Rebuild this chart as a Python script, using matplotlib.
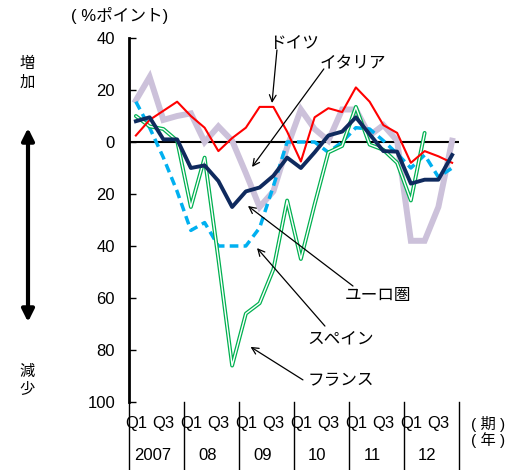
import matplotlib
matplotlib.use('Agg')
import matplotlib.pyplot as plt
import numpy as np

plt.rcParams['font.family'] = ['Liberation Sans', 'Noto Sans CJK JP']

# 2007Q1 - 2012Q4, %ポイント (マイナスは減少)
germany = [2.5, 8.5, 12, 15.5, 10, 5.5, -3.5, 1.5, 5.5, 13.5, 13.5, 4,
           -7.5, 9.5, 13, 11.5, 21, 15.5, 6.5, 3.5, -8, -3.5, -5.5, -8]
italy = [16, 25, 8.5, 10, 11, 0, 6, 0.5, -12, -25, -19, -2,
         12.5, 5, 0.5, 12.5, 12.5, 2.5, 6.5, 0.5, -38, -38, -25, 0.5]
spain = [15.5, 5.5, -6, -19, -34, -31, -40, -40, -40, -33, -17, 0,
         0, 0, -4, 0, 5.5, 5, 0.5, -4.5, -10, -5, -13.5, -10]
france = [10, 6, 5, 0.5, -25, -6, -45, -86, -66, -62, -49, -22.5,
          -45, -24, -4, -1.5, 13.5, -1, -3, -8, -22.5, 3.5]
euro = [8, 9.5, 1, 1, -10, -9, -15, -25, -19, -17.5, -13, -6,
        -10, -4, 2.5, 4, 9.5, 3, -3.5, -3.7, -16, -14.5, -14.5, -5]

years = ['2007', '08', '09', '10', '11', '12']
quarter_labels = ['Q1', 'Q3']

fig = plt.figure(figsize=(5.08, 4.70), dpi=100)
ax = fig.add_axes([129 / 508, 1 - 402 / 470, 330 / 508, 364 / 470])

ax.axhline(0, color='black', lw=1.5, zorder=1)

x = np.arange(len(germany))
ax.plot(np.arange(len(italy)), italy, color='#CCC1DA', lw=4.3, zorder=2,
        solid_joinstyle='miter')
ax.plot(np.arange(len(spain)), spain, color='#00B0F0', lw=2.5, zorder=3,
        dashes=(2.5, 1.5), dash_capstyle='butt')
ax.plot(np.arange(len(france)), france, color='#00B050', lw=2.8, zorder=4,
        solid_joinstyle='round', solid_capstyle='round')
ax.plot(np.arange(len(france)), france, color='white', lw=1.0, zorder=4,
        solid_joinstyle='round', solid_capstyle='round')
ax.plot(x, germany, color='#FF0000', lw=1.5, zorder=5)
ax.plot(np.arange(len(euro)), euro, color='#0F2A5E', lw=2.8, zorder=6)

ax.set_xlim(-0.5, 23.5)
ax.set_ylim(-100, 40)
yt = list(range(-100, 41, 20))
ax.set_yticks(yt)
ax.set_yticklabels([str(abs(v)) for v in yt])
ax.tick_params(axis='y', direction='in', length=5, width=1, pad=10,
               labelsize=12)
ax.set_xticks([])
for s in ['top', 'right', 'bottom']:
    ax.spines[s].set_visible(False)
ax.spines['left'].set_linewidth(2)

# 下の区切り線とラベル
trans = ax.get_xaxis_transform()
for k in range(7):
    ax.plot([4 * k - 0.5, 4 * k - 0.5], [0, -0.187], color='black', lw=1,
            transform=trans, clip_on=False)
for k, yr in enumerate(years):
    for j, q in enumerate(quarter_labels):
        ax.text(4 * k + 2 * j, -0.06, q, transform=trans, ha='center',
                va='center', fontsize=12,
                family=['Liberation Sans Narrow', 'Liberation Sans'])
    ax.text(4 * k + 1.2, -0.146, yr, transform=trans, ha='center',
            va='center', fontsize=12,
            family=['Liberation Sans Narrow', 'Liberation Sans'])
ax.text(25.6, -0.06, '( 期 )', transform=trans, ha='center', va='center',
        fontsize=11)
ax.text(25.6, -0.105, '( 年 )', transform=trans, ha='center', va='center',
        fontsize=11)

# 注記
arrow = dict(arrowstyle='->', color='black', lw=0.9, shrinkA=0, shrinkB=0,
             mutation_scale=12)
notes = [
    ('ドイツ', (11.5, 38), (10.26, 35.4), (9.9, 15)),
    ('イタリア', (15.8, 30), (13.67, 28.1), (8.45, -9.6)),
    ('ユーロ圏', (17.6, -59.2), (15.79, -55.4), (8.15, -24.6)),
    ('スペイン', (14.92, -75.8), (13.75, -70.8), (8.81, -40.8)),
    ('フランス', (14.92, -91.9), (12.15, -91.5), (8.34, -78.8)),
]
for label, pos, start, tip in notes:
    ax.text(pos[0], pos[1], label, ha='center', va='center', fontsize=12,
            zorder=10)
    ax.annotate('', xy=tip, xytext=start, arrowprops=arrow, zorder=10)

fig.text(120 / 508, 1 - 15 / 470, '( %ポイント)', ha='center', va='center',
         fontsize=12)
fig.text(27 / 508, 1 - 73 / 470, '増\n加', ha='center', va='center',
         fontsize=11, linespacing=1.4)
fig.text(27 / 508, 1 - 381 / 470, '減\n少', ha='center', va='center',
         fontsize=11, linespacing=1.4)
ax.annotate('', xy=(28, 470 - 128), xytext=(28, 470 - 322),
            xycoords='figure pixels', textcoords='figure pixels',
            arrowprops=dict(arrowstyle='<|-|>', color='black', lw=3,
                            mutation_scale=18, shrinkA=0, shrinkB=0))

fig.savefig('out.png', dpi=100)
